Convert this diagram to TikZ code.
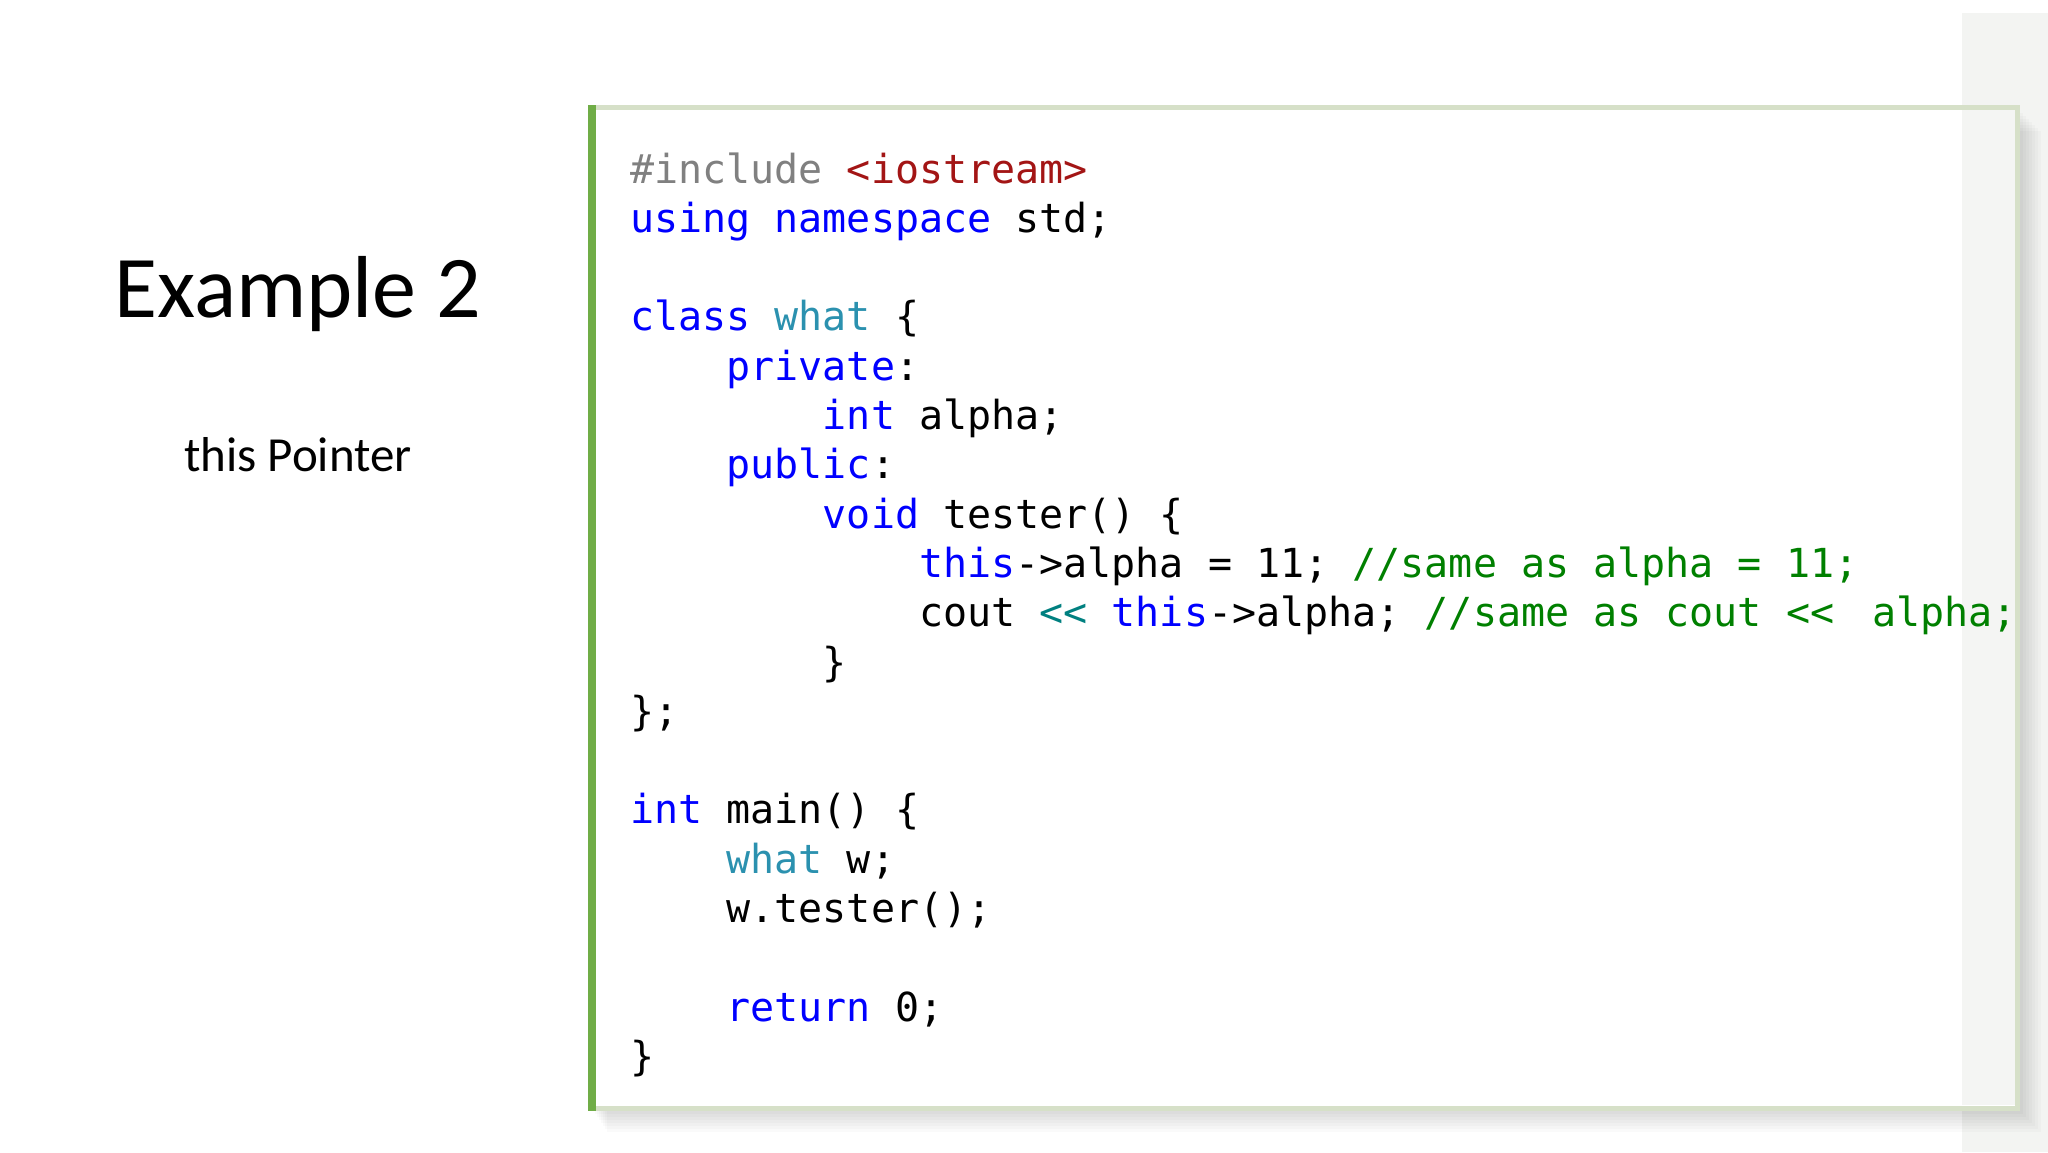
\documentclass[tikz,border=0pt]{standalone}
\usepackage{fontspec}
\setmainfont{Carlito}
\newfontfamily\codefont{DejaVu Sans Mono}
\definecolor{kw}{RGB}{0,0,255}
\definecolor{ty}{RGB}{43,145,175}
\definecolor{cm}{RGB}{0,128,0}
\definecolor{pp}{RGB}{128,128,128}
\definecolor{st}{RGB}{163,21,21}
\definecolor{op}{RGB}{0,128,128}
\definecolor{bord}{RGB}{214,224,200}
\definecolor{bar}{RGB}{112,173,71}
\definecolor{band}{RGB}{243,244,242}
\newcommand{\K}[1]{\textcolor{kw}{#1}}
\newcommand{\T}[1]{\textcolor{ty}{#1}}
\newcommand{\Cm}[1]{\textcolor{cm}{#1}}
\tikzset{code/.style={anchor=base west,inner sep=0pt,font=\codefont\fontsize{40}{40}\selectfont},
title/.style={font=\fontsize{88}{88}\selectfont,inner sep=0pt},
sub/.style={font=\fontsize{49}{49}\selectfont,inner sep=0pt}}
\begin{document}
\begin{tikzpicture}[x=1pt,y=-1pt]
\useasboundingbox (0,0) rectangle (2048,1152);
\fill[white] (0,0) rectangle (2048,1152);
\fill[band] (1962,13) rectangle (2048,1152);
\foreach \i in {1,...,8}{\fill[black,opacity=0.018] (591+2*\i,107+3*\i) rectangle (2017+3*\i,1108+3*\i);}
\fill[white] (591,107) rectangle (2017,1108);
\fill[band,opacity=0.9] (1962,110) rectangle (2015,1105);
\draw[bord,line width=5] (591,107) rectangle (2017,1108);
\fill[bar] (588,105) rectangle (596,1111);
\node[title] (t) at (298,294) {Example 2};
\node[sub] (s) at (298,455) {this Pointer};
\def\cw{24.08}
\def\bl{49.3}
\node[code] (l0) at (630,183) {\textcolor{pp}{\#include} \textcolor{st}{<iostream>}};
\node[code] (l1) at (630,183+\bl) {\K{using} \K{namespace} std;};
\node[code] (l3) at (630,183+3*\bl) {\K{class} \T{what} \{};
\node[code] (l4) at (630+4*\cw,183+4*\bl) {\K{private}:};
\node[code] (l5) at (630+8*\cw,183+5*\bl) {\K{int} alpha;};
\node[code] (l6) at (630+4*\cw,183+6*\bl) {\K{public}:};
\node[code] (l7) at (630+8*\cw,183+7*\bl) {\K{void} tester() \{};
\node[code] (l8) at (630+12*\cw,183+8*\bl) {\K{this}->alpha = 11; \Cm{//same as alpha = 11;}};
\node[code] (l9) at (630+12*\cw,183+9*\bl) {cout \textcolor{op}{<<} \K{this}->alpha; \Cm{//same as cout <<\hspace*{\cw pt}\hspace*{-0.25em} alpha;}};
\node[code] (l10) at (630+8*\cw,183+10*\bl) {\}};
\node[code] (l11) at (630,183+11*\bl) {\};};
\node[code] (l13) at (630,183+13*\bl) {\K{int} main() \{};
\node[code] (l14) at (630+4*\cw,183+14*\bl) {\T{what} w;};
\node[code] (l15) at (630+4*\cw,183+15*\bl) {w.tester();};
\node[code] (l17) at (630+4*\cw,183+17*\bl) {\K{return} 0;};
\node[code] (l18) at (630,183+18*\bl) {\}};
\end{tikzpicture}
\end{document}
